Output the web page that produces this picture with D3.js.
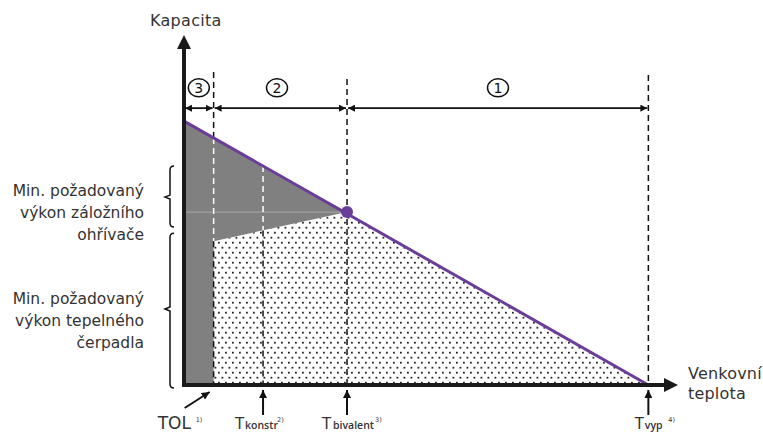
<!DOCTYPE html>
<html><head><meta charset="utf-8">
<script src="https://cdn.jsdelivr.net/npm/d3@7"></script>
<style>body{margin:0;background:#fff}text{font-family:"DejaVu Sans",sans-serif;fill:#333}</style>
</head><body><svg id="c" width="763" height="432"></svg>
<script>
// Temperature markers along the outdoor-temperature axis (relative units)
const markers = ["TOL", "Tkonstr", "Tbivalent", "Tvyp"];
const markerTemps = [6, 16, 33, 94];
const markerMain = ["TOL", "T", "T", "T"];
const markerSub = ["", "konstr", "bivalent", "vyp"];
const markerNote = ["1)", "2)", "3)", "4)"];
// Capacity values
const loadAtOrigin = 75.4;      // building heat load at the axis origin
const loadAtTvyp = 0;           // load reaches zero at Tvyp
const hpAtTOL = 41.1;           // heat pump capacity at TOL
const bivalentCap = 49.4;       // capacity at bivalent point
// Zones
const zoneLabels = ["3", "2", "1"];
const zoneBounds = [[0, 6], [6, 33], [33, 94]];
// Texts
const yTitle = "Kapacita";
const xTitle = ["Venkovní", "teplota"];
const backupLabel = ["Min. požadovaný", "výkon záložního", "ohřívače"];
const hpLabel = ["Min. požadovaný", "výkon tepelného", "čerpadla"];

const svg = d3.select("#c");
const x = d3.scaleLinear().domain([0, 100]).range([184, 678]);
const y = d3.scaleLinear().domain([0, 100]).range([385, 35]);

const load = t => loadAtOrigin + (loadAtTvyp - loadAtOrigin) * t / markerTemps[3];

const defs = svg.append("defs");
const pat = defs.append("pattern").attr("id", "dots").attr("patternUnits", "userSpaceOnUse")
  .attr("width", 7).attr("height", 10);
pat.append("rect").attr("x", 1).attr("y", 1.8).attr("width", 1.8).attr("height", 1.8).attr("fill", "#262626");
pat.append("rect").attr("x", 4.5).attr("y", 6.8).attr("width", 1.8).attr("height", 1.8).attr("fill", "#262626");
defs.append("marker").attr("id", "ah").attr("viewBox", "0 0 10 10").attr("refX", 10).attr("refY", 5)
  .attr("markerWidth", 7).attr("markerHeight", 7).attr("markerUnits", "userSpaceOnUse").attr("orient", "auto-start-reverse")
  .append("path").attr("d", "M0,0L10,5L0,10Z").attr("fill", "#111");
defs.append("marker").attr("id", "ah2").attr("viewBox", "0 0 10 10").attr("refX", 10).attr("refY", 5)
  .attr("markerWidth", 8).attr("markerHeight", 8).attr("markerUnits", "userSpaceOnUse").attr("orient", "auto")
  .append("path").attr("d", "M0,0L10,5L0,10Z").attr("fill", "#111");

const [tTOL, tK, tB, tV] = markerTemps;
const line = d3.line().x(d => x(d[0])).y(d => y(d[1]));

// gray backup region
svg.append("path").attr("d", line([[0, 0], [0, load(0)], [tB, bivalentCap], [tTOL, hpAtTOL], [tTOL, 0]]) + "Z")
  .attr("fill", "#808080");
// dotted heat pump region
svg.append("path").attr("d", line([[tTOL, 0], [tTOL, hpAtTOL], [tB, bivalentCap], [tV, 0]]) + "Z")
  .attr("fill", "url(#dots)");
// faint separator
svg.append("line").attr("x1", x(0)).attr("x2", x(tB)).attr("y1", y(bivalentCap)).attr("y2", y(bivalentCap))
  .attr("stroke", "#a8a8a8").attr("stroke-width", 1);

const hpAt = t => hpAtTOL + (bivalentCap - hpAtTOL) * (t - tTOL) / (tB - tTOL);
const dash = (t, y1, y2, col) => svg.append("line").attr("x1", x(t)).attr("x2", x(t)).attr("y1", y(y1)).attr("y2", y(y2))
  .attr("stroke", col).attr("stroke-width", 1.5).attr("stroke-dasharray", "6,4");
// TOL dashed
dash(tTOL, 89.4, load(tTOL), "#111");
dash(tTOL, load(tTOL), hpAtTOL, "#fff");
dash(tTOL, hpAtTOL, 0, "#111");
// Tkonstr dashed
dash(tK, load(tK), hpAt(tK), "#fff");
dash(tK, hpAt(tK), 0, "#111");
// Tbivalent & Tvyp
dash(tB, 87.4, 0, "#111");
dash(tV, 88.6, 0, "#111");

// load line
svg.append("path").attr("d", line([[0, load(0)], [tV, 0]])).attr("stroke", "#6a3d9a").attr("stroke-width", 3).attr("fill", "none");
svg.append("circle").attr("cx", x(tB)).attr("cy", y(bivalentCap)).attr("r", 6).attr("fill", "#6a3d9a");

// axes
svg.append("line").attr("x1", x(0)).attr("x2", x(0)).attr("y1", y(0) + 2).attr("y2", y(100) + 12)
  .attr("stroke", "#1a1a1a").attr("stroke-width", 4);
svg.append("path").attr("d", `M${x(0) - 7},${y(100) + 14}L${x(0)},${y(100)}L${x(0) + 7},${y(100) + 14}Z`).attr("fill", "#1a1a1a");
svg.append("line").attr("x1", x(0) - 2).attr("x2", x(100) - 12).attr("y1", y(0)).attr("y2", y(0))
  .attr("stroke", "#1a1a1a").attr("stroke-width", 4);
svg.append("path").attr("d", `M${x(100) - 14},${y(0) - 7}L${x(100)},${y(0)}L${x(100) - 14},${y(0) + 7}Z`).attr("fill", "#1a1a1a");

// zone arrows & circles
zoneBounds.forEach((b, i) => {
  svg.append("line").attr("x1", x(b[0]) + 1).attr("x2", x(b[1]) - 1).attr("y1", y(79.1)).attr("y2", y(79.1))
    .attr("stroke", "#111").attr("stroke-width", 1.8)
    .attr("marker-start", "url(#ah)").attr("marker-end", "url(#ah)");
  const cx = i === 0 ? x((b[0] + b[1]) / 2) : (i === 1 ? 277 : 498);
  svg.append("ellipse").attr("cx", cx).attr("cy", y(84.9)).attr("rx", 10.5).attr("ry", 9)
    .attr("fill", "#fff").attr("stroke", "#111").attr("stroke-width", 1.5);
  svg.append("text").attr("x", cx).attr("y", y(84.9) + 5).attr("text-anchor", "middle")
    .attr("font-size", 14).style("fill", "#111").text(zoneLabels[i]);
});

// titles
svg.append("text").attr("x", 150).attr("y", 26).attr("font-size", 16).attr("letter-spacing", 0.3).text(yTitle);
xTitle.forEach((t, i) => svg.append("text").attr("x", 688).attr("y", 379 + i * 20).attr("font-size", 16).attr("letter-spacing", 0.2).text(t));

// left labels
const labelBlock = (lines, yc) => lines.forEach((t, i) =>
  svg.append("text").attr("x", 144).attr("y", yc + (i - 1) * 22 + 6).attr("text-anchor", "end").attr("font-size", 15.5).text(t));
labelBlock(backupLabel, 212);
labelBlock(hpLabel, 320);

// braces
const brace = (y1, y2, ym) => {
  const xv = 170;
  svg.append("path").attr("d", `M${xv + 4},${y1}Q${xv},${y1} ${xv},${y1 + 4}L${xv},${ym - 2}L${xv - 5},${ym}L${xv},${ym + 2}L${xv},${y2 - 4}Q${xv},${y2} ${xv + 4},${y2}`)
    .attr("fill", "none").attr("stroke", "#111").attr("stroke-width", 1.5);
};
brace(y(bivalentCap) - 46, y(bivalentCap) + 15, y(bivalentCap) - 15);
brace(y(hpAtTOL) - 8, y(0) + 3, y(0) - 76);

// bottom marker arrows and labels
const tStart = [-56, -28, -25, -13.5];
const subStart = [0, -18, -14, -3.5];
const noteStart = [-18, 14, 28, 20];
markerTemps.forEach((t, i) => {
  if (i === 0) {
    svg.append("line").attr("x1", x(t) - 29).attr("y1", 408).attr("x2", x(t) - 4).attr("y2", 392)
      .attr("stroke", "#111").attr("stroke-width", 2).attr("marker-end", "url(#ah2)");
  } else {
    svg.append("line").attr("x1", x(t)).attr("y1", 415).attr("x2", x(t)).attr("y2", 390)
      .attr("stroke", "#111").attr("stroke-width", 2).attr("marker-end", "url(#ah2)");
  }
  svg.append("text").attr("x", x(t) + tStart[i]).attr("y", 429).attr("font-size", i === 0 ? 17 : 15)
    .text(markerMain[i]);
  if (markerSub[i]) svg.append("text").attr("x", x(t) + subStart[i]).attr("y", 429).attr("font-size", 10.5)
    .style("font-family", "'Open Sans',sans-serif").style("font-weight", 600).style("fill", "#333").text(markerSub[i]);
  svg.append("text").attr("x", x(t) + noteStart[i]).attr("y", 422).attr("font-size", 6.5).text(markerNote[i]);
});
</script></body></html>
